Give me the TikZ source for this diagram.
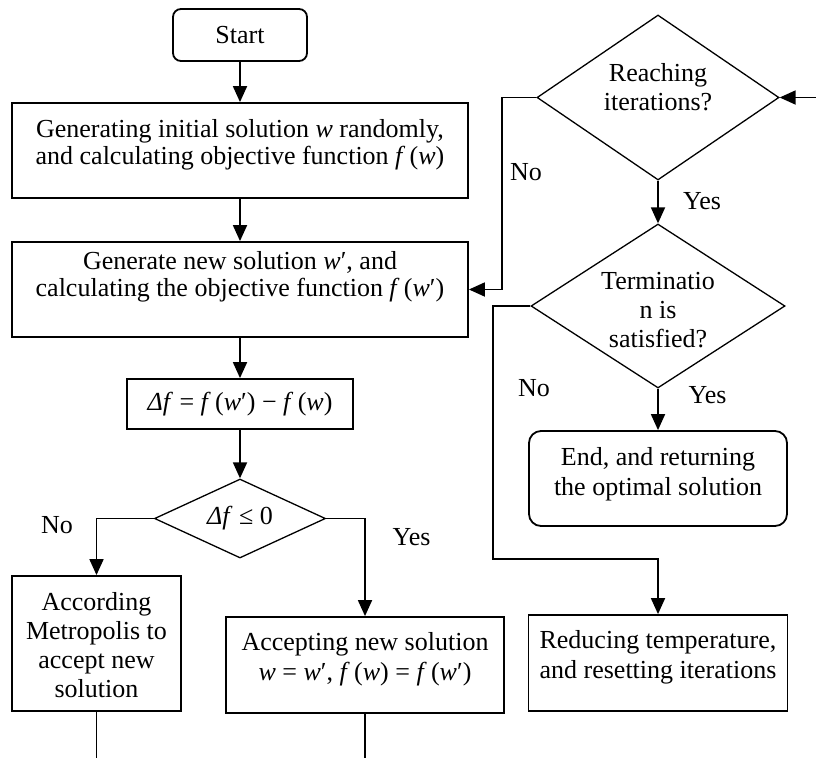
\documentclass[tikz,border=0pt]{standalone}
\usepackage{fontspec}
\setmainfont{Liberation Serif}
\usetikzlibrary{shapes.geometric,arrows.meta}
\newcommand\mytxt[3]{\raisebox{#1pt}[\height][\depth]{\fontsize{26}{#2}\selectfont\begin{tabular}{@{}c@{}}#3\end{tabular}}}
\begin{document}
\begin{tikzpicture}[x=1pt,y=-1pt,
  every node/.style={font=\fontsize{26}{29}\selectfont},
  box/.style={draw,rectangle,line width=1.8pt,inner sep=0pt},
  dia/.style={draw,diamond,line width=1.3pt,inner sep=0pt,aspect=1.5},
  ln/.style={line width=1.8pt},
  arr/.style={line width=1.8pt,-{Triangle[length=16pt,width=14pt]}}]
\useasboundingbox (0,0) rectangle (816,758);

\node[box,rounded corners=8pt,minimum width=134,minimum height=52] (start) at (240,35) {Start};
\node[box,minimum width=456,minimum height=95] (b1) at (240,150.5) {\mytxt{5}{27}{Generating initial solution \textit{w} randomly,\\ and calculating objective function \textit{f}\,(\textit{w})}};
\node[box,minimum width=456,minimum height=95] (b2) at (240,289.5) {\mytxt{12}{27}{Generate new solution \textit{w}′, and\\ calculating the objective function \textit{f}\,(\textit{w}′)}};
\node[box,minimum width=226,minimum height=50] (df) at (240,404) {\textit{Δf} = \textit{f}\,(\textit{w}′) − \textit{f}\,(\textit{w})};
\node[dia,aspect=2.1,minimum width=171,minimum height=79] (d1) at (240,518.5) {\textit{Δf} ≤ 0};
\node[box,minimum width=169,minimum height=135] (met) at (96.5,643.5) {\mytxt{-4.2}{29}{According\\ Metropolis to\\ accept new\\ solution}};
\node[box,minimum width=278,minimum height=96] (acc) at (365,665) {\mytxt{6}{30}{Accepting new solution\\ \textit{w} = \textit{w}′, \textit{f}\,(\textit{w}) = \textit{f}\,(\textit{w}′)}};
\node[dia,minimum width=242,minimum height=165] (reach) at (658,97.5) {\mytxt{7.8}{29}{Reaching\\ iterations?}};
\node[dia,minimum width=254,minimum height=164] (term) at (658,306) {\mytxt{-6.2}{29}{Terminatio\\ n is\\ satisfied?}};
\node[box,rounded corners=12pt,minimum width=258,minimum height=95] (end) at (658,478.5) {\mytxt{4.5}{30}{End, and returning\\ the optimal solution}};
\node[box,minimum width=259,minimum height=96] (red) at (658,663) {\mytxt{6}{30}{Reducing temperature,\\ and resetting iterations}};

\draw[arr] (start) -- (b1);
\draw[arr] (b1) -- (b2);
\draw[arr] (b2) -- (df);
\draw[arr] (df) -- (d1);
\draw[arr] (d1.west) -| (met.north);
\draw[arr] (d1.east) -| (acc.north);
\coordinate (metEnd) at (96.5,758);
\coordinate (accEnd) at (365,758);
\draw[ln] (met.south) -- (metEnd);
\draw[ln] (acc.south) -- (accEnd);
\coordinate (rin) at (816,97.5);
\draw[arr] (rin) -- (reach.east);
\coordinate (rl) at (502,97.5);
\draw[arr] (reach.west) -- (rl) |- (b2.east);
\draw[arr] (reach) -- (term);
\coordinate (tl) at (493,559);
\draw[arr] (term.west) -| (tl) -| (red.north);
\draw[arr] (term) -- (end);

\node (no1) at (526,172) {No};
\node (yes1) at (702,201) {Yes};
\node (no2) at (534,388) {No};
\node (yes2) at (707.5,395) {Yes};
\node (no3) at (57,525) {No};
\node (yes3) at (411.5,537) {Yes};
\end{tikzpicture}
\end{document}
